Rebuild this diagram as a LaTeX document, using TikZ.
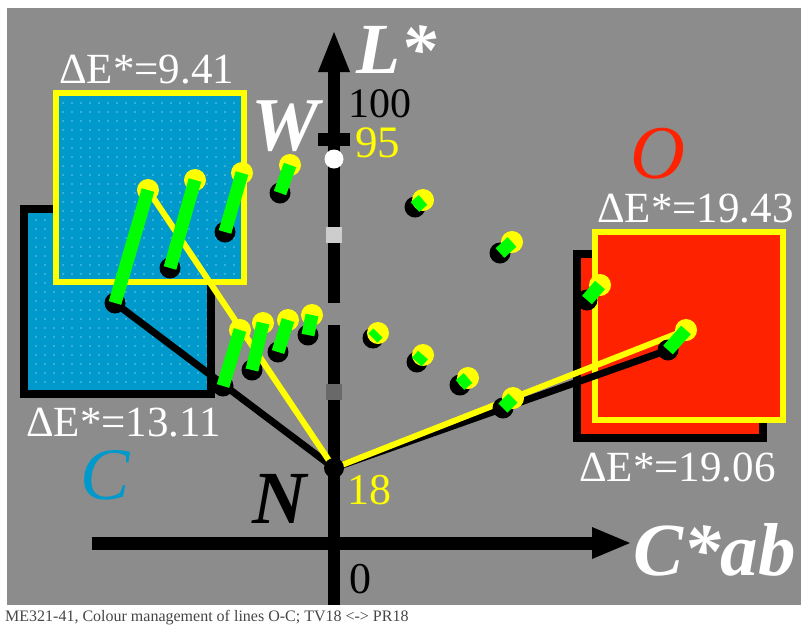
\documentclass[tikz,border=0pt]{standalone}
\usepackage{fontspec}
\setmainfont{Liberation Serif}
\usetikzlibrary{patterns.meta}
\definecolor{bggray}{RGB}{140,140,140}
\definecolor{cyanfill}{RGB}{0,153,204}
\definecolor{cyandot}{RGB}{110,200,230}
\definecolor{redfill}{RGB}{255,34,0}
\definecolor{ylw}{RGB}{255,255,0}
\definecolor{grn}{RGB}{0,255,0}
\definecolor{capgray}{RGB}{70,70,70}
\definecolor{lightmark}{RGB}{205,205,205}
\definecolor{darkmark}{RGB}{105,105,105}
\newcommand\samplept[5]{%
  \coordinate (#1y) at (#2,#3);
  \coordinate (#1b) at (#4,#5);
  \fill[black] (#1b) circle[radius=10.5pt];
  \fill[ylw] (#1y) circle[radius=11pt];
  \draw[grn, line width=13pt] (#1y) -- (#1b);
}
\begin{document}
\begin{tikzpicture}[x=1pt,y=-1pt,
  lbl/.style={inner sep=0pt, anchor=base west},
  dE/.style={lbl, text=white, font=\fontsize{43}{43}\selectfont},
  big/.style={lbl, font=\fontsize{75}{75}\selectfont\bfseries\itshape},
  num/.style={lbl, font=\fontsize{42}{42}\selectfont},
  axisfill/.style={fill=black},
  sqback/.style={draw=black, line width=8pt},
  sqfront/.style={draw=ylw, line width=6pt},
  dotpat/.style={pattern={Dots[distance=9pt,radius=0.8pt]}, pattern color=cyandot}]
\useasboundingbox (0,0) rectangle (801,625);
\fill[white] (0,0) rectangle (801,625);
\fill[bggray] (7,8) rectangle (801,605);

% cyan squares
\fill[cyanfill] (24,209) rectangle (211,394);
\fill[dotpat] (24,209) rectangle (211,394);
\draw[sqback] (24,209) rectangle (211,394);
\fill[cyanfill] (56,93) rectangle (244,282);
\fill[dotpat] (56,93) rectangle (244,282);
\draw[sqfront] (56,93) rectangle (244,282);

% red squares
\filldraw[fill=redfill, sqback] (577,254) rectangle (763,438);
\filldraw[fill=redfill, sqfront] (595,232) rectangle (783,420);

% axes
\fill[axisfill] (328,72) rectangle (340,303);
\fill[axisfill] (328,325) rectangle (340,605);
\fill[axisfill] (318,72) -- (334,32) -- (350,72) -- cycle;
\fill[axisfill] (318,133) rectangle (350,146);
\fill[white] (334,159) circle[radius=9.5pt];
\fill[lightmark] (326,227) rectangle (342,243);
\fill[darkmark] (326,384) rectangle (342,400);
\fill[axisfill] (92,537) rectangle (592,550);
\fill[axisfill] (592,527) -- (630,543) -- (592,559) -- cycle;

% labels
\node[big, text=white, font=\fontsize{72}{72}\selectfont\bfseries\itshape] (lL) at (356,73) {L*};
\node[num, text=black] (l100) at (348,117) {100};
\node[num, text=ylw, font=\fontsize{45}{45}\selectfont] (l95) at (355,157) {95};
\node[big, text=white, font=\fontsize{76}{76}\selectfont\bfseries\itshape] (lW) at (251,150) {W};
\node[big, text=black] (lN) at (252,523) {N};
\node[num, text=ylw, font=\fontsize{44}{44}\selectfont] (l18) at (347,504) {18};
\node[num, text=black, font=\fontsize{44}{44}\selectfont] (l0) at (349,593) {0};
\node[big, text=cyanfill, font=\fontsize{74}{74}\selectfont\itshape] (lC) at (80,499) {C};
\node[big, text=redfill, font=\fontsize{76}{76}\selectfont\itshape] (lO) at (630,178) {O};
\node[big, text=white] (lCab) at (633,575) {C*ab};
\node[dE] (d1) at (59,83) {ΔE*=9.41};
\node[dE] (d2) at (26,436) {ΔE*=13.11};
\node[dE] (d3) at (597,222) {ΔE*=19.43};
\node[dE] (d4) at (579,481) {ΔE*=19.06};
\node[lbl, text=capgray, font=\fontsize{16}{16}\selectfont] (cap) at (5,621) {ME321-41, Colour management of lines O-C; TV18 <-> PR18};

% connecting lines from N
\coordinate (N) at (334,468);
\coordinate (A) at (148,190);
\coordinate (B) at (115,303);
\coordinate (P) at (686,330);
\coordinate (Q) at (668,350);
\draw[black, line width=7pt] (N) -- (B);
\draw[black, line width=7pt] (N) -- (Q);
\draw[ylw, line width=6pt] (N) -- (A);
\draw[ylw, line width=6pt] (N) -- (P);
\fill[black] (N) circle[radius=10pt];

% sample points
\samplept{p1}{148}{190}{115}{303}
\samplept{p2}{195}{180}{170}{268}
\samplept{p3}{242}{173}{225}{232}
\samplept{p4}{290}{165}{280}{193}
\samplept{p5}{240}{330}{223}{386}
\samplept{p6}{263}{323}{252}{370}
\samplept{p7}{288}{320}{278}{352}
\samplept{p8}{312}{315}{308}{335}
\samplept{p9}{423}{200}{415}{207}
\samplept{p10}{512}{242}{500}{253}
\samplept{p11}{378}{333}{373}{338}
\samplept{p12}{423}{355}{417}{362}
\samplept{p13}{468}{378}{460}{385}
\samplept{p14}{513}{398}{503}{408}
\samplept{p15}{600}{285}{587}{300}
\samplept{p16}{686}{330}{668}{350}
\end{tikzpicture}
\end{document}
